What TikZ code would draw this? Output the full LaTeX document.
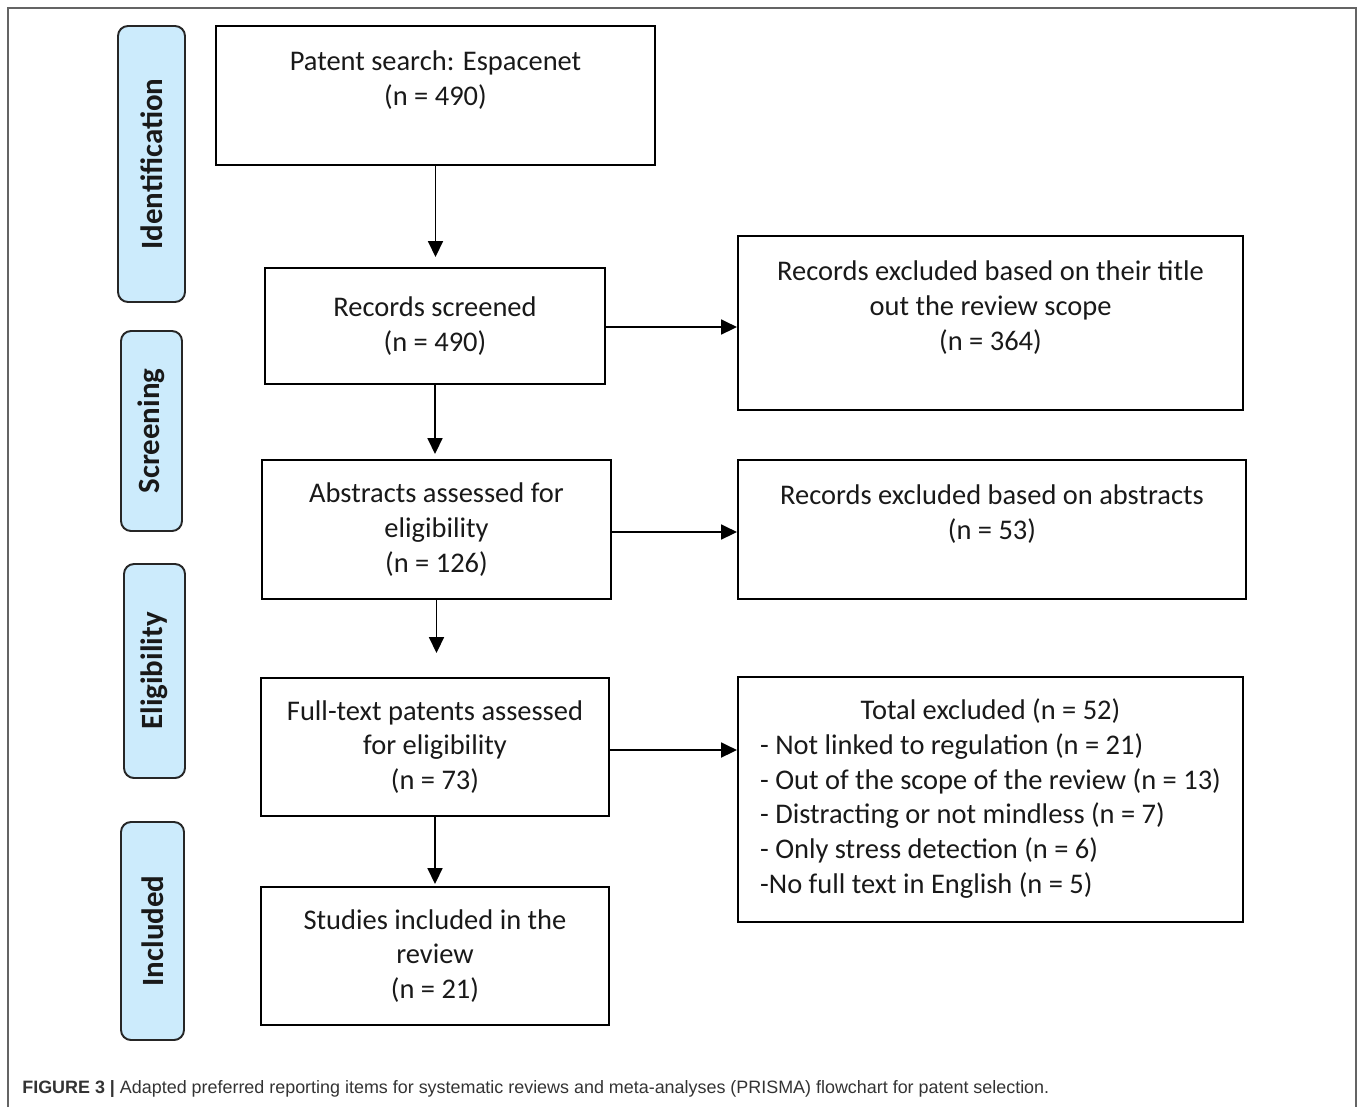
\documentclass[tikz,border=0pt]{standalone}
\usepackage{fontspec}
\setmainfont{Carlito}
\newfontfamily\capfont{Liberation Sans}
\usetikzlibrary{arrows.meta}
\definecolor{lblue}{RGB}{204,235,252}
\definecolor{txt}{RGB}{25,25,25}
\definecolor{frame}{RGB}{100,100,100}
\newcommand\mkbox[6]{\node[box, minimum width={(#4-#2)*0.02cm}, minimum height={(#5-#3)*0.02cm}] (#1) at ({(#2+#4)/2},{(#3+#5)/2}) {#6};}
\newcommand\mklab[6]{\node[lab, minimum width={(#5-#3)*0.02cm}, minimum height={(#4-#2)*0.02cm}] (#1) at ({(#2+#4)/2},{(#3+#5)/2}) {#6};}
\begin{document}
\begin{tikzpicture}[x=0.02cm,y=-0.02cm,
  box/.style={draw=black, line width=1.2pt, inner sep=0pt, align=center, text=txt, font=\fontsize{16.2}{19.8}\selectfont},
  lab/.style={draw=black!85, fill=lblue, rounded corners=0.2cm, line width=1.1pt, rotate=90, inner sep=0pt, text=txt, font=\bfseries\fontsize{17.6}{20}\selectfont},
  arr/.style={-{Triangle[length=9pt,width=8.5pt]}, line width=1.1pt}]
\useasboundingbox (0,0) rectangle (1358,1107);
\draw[frame, line width=1.2pt] (8,1107) -- (8,8) -- (1356,8) -- (1356,1107);
% stage labels
\mklab{lid}{118}{26}{185}{302}{Identification}
\mklab{lsc}{121}{331}{182}{531}{Screening}
\mklab{lel}{124}{564}{185}{778}{Eligibility}
\mklab{lin}{121}{822}{184}{1040}{Included}
% main column
\mkbox{pat}{216}{26}{655}{165}{Patent search: Espacenet\\(n = 490)\\~}
\mkbox{scr}{265}{268}{605}{384}{Records screened\\(n = 490)}
\mkbox{abs}{262}{460}{611}{599}{Abstracts assessed for\\eligibility\\(n = 126)}
\mkbox{ful}{261}{678}{609}{816}{Full-text patents assessed\\for eligibility\\(n = 73)}
\mkbox{stu}{261}{887}{609}{1025}{Studies included in the\\review\\(n = 21)}
% exclusions
\mkbox{ex1}{738}{236}{1243}{410}{Records excluded based on their title\\out the review scope\\(n = 364)\\~}
\mkbox{ex2}{738}{460}{1246}{599}{Records excluded based on abstracts\\(n = 53)\\~}
\mkbox{ex3}{738}{677}{1243}{922}{\renewcommand\arraystretch{1}\begin{tabular}{@{}l@{}}
\multicolumn{1}{@{}c@{}}{Total excluded (n = 52)}\\
- Not linked to regulation (n = 21)\\
- Out of the scope of the review (n = 13)\\
- Distracting or not mindless (n = 7)\\
- Only stress detection (n = 6)\\
-No full text in English (n = 5)
\end{tabular}}
% arrows
\draw[arr, shorten >=0.2cm] (pat.south) -- (pat.south |- scr.north);
\draw[arr, shorten >=0.1cm] (scr.south) -- (scr.south |- abs.north);
\draw[arr, shorten >=0.48cm] (abs.south) -- (abs.south |- ful.north);
\draw[arr, shorten >=0.04cm] (ful.south) -- (ful.south |- stu.north);
\draw[arr] ([yshift=-0.02cm]scr.east) -- ([yshift=-0.02cm]scr.east -| ex1.west);
\draw[arr] ([yshift=-0.05cm]abs.east) -- ([yshift=-0.05cm]abs.east -| ex2.west);
\draw[arr] ([yshift=-0.06cm]ful.east) -- ([yshift=-0.06cm]ful.east -| ex3.west);
% caption
\node[anchor=west, inner sep=0pt, text=black!80, font=\capfont\fontsize{10.2}{12}\selectfont] (cap) at (22,1089) {\textbf{FIGURE 3 |} Adapted preferred reporting items for systematic reviews and meta-analyses (PRISMA) flowchart for patent selection.};
\end{tikzpicture}
\end{document}
